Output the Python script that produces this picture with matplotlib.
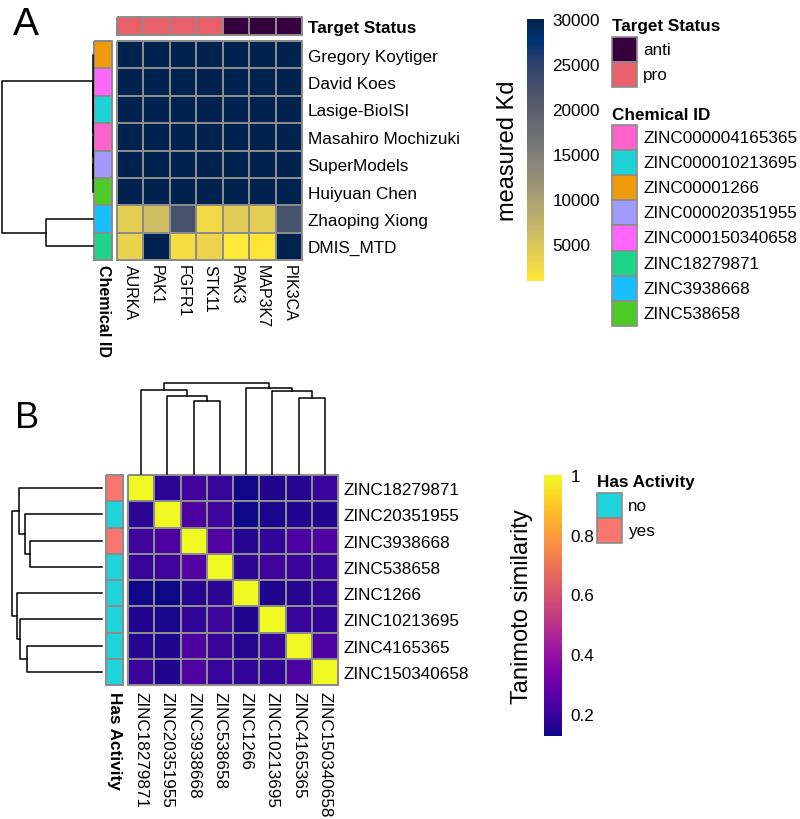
import numpy as np
import matplotlib
matplotlib.use("Agg")
import matplotlib.pyplot as plt
from matplotlib.colors import ListedColormap, Normalize
from matplotlib.patches import Rectangle

plt.rcParams['font.family'] = ['Liberation Sans', 'DejaVu Sans']

# ---------------- Panel A data ----------------
kinases = ["AURKA", "PAK1", "FGFR1", "STK11", "PAK3", "MAP3K7", "PIK3CA"]
target_status = ["pro", "pro", "pro", "pro", "anti", "anti", "anti"]
status_levels = ["anti", "pro"]
status_colors = ["#36003F", "#E8606A"]

teams = ["Gregory Koytiger", "David Koes", "Lasige-BioISI", "Masahiro Mochizuki",
         "SuperModels", "Huiyuan Chen", "Zhaoping Xiong", "DMIS_MTD"]
team_chem = ["ZINC00001266", "ZINC000150340658", "ZINC000010213695", "ZINC000004165365",
             "ZINC000020351955", "ZINC538658", "ZINC3938668", "ZINC18279871"]
chem_ids = ["ZINC000004165365", "ZINC000010213695", "ZINC00001266", "ZINC000020351955",
            "ZINC000150340658", "ZINC18279871", "ZINC3938668", "ZINC538658"]
chem_colors = ["#FF63CB", "#1DD3D8", "#EF9A0B", "#A39AFF",
               "#FF66FF", "#1DD48A", "#17BFFF", "#4CCB26"]

kd = np.array([
    [30000, 30000, 30000, 30000, 30000, 30000, 30000],
    [30000, 30000, 30000, 30000, 30000, 30000, 30000],
    [30000, 30000, 30000, 30000, 30000, 30000, 30000],
    [30000, 30000, 30000, 30000, 30000, 30000, 30000],
    [30000, 30000, 30000, 30000, 30000, 30000, 30000],
    [30000, 30000, 30000, 30000, 30000, 30000, 30000],
    [3800, 6200, 22300, 2700, 4100, 3900, 22300],
    [3200, 30000, 2100, 3100, 900, 1200, 30000],
])
kd_ticks = [5000, 10000, 15000, 20000, 25000, 30000]

# row clustering of panel A: (child, child, height), new nodes numbered from 8
merges_a = [(4, 5, 0.0), (3, 8, 0.0), (2, 9, 0.0), (1, 10, 0.0), (0, 11, 0.0),
            (6, 7, 0.516), (12, 13, 1.0)]

# ---------------- Panel B data ----------------
compounds = ["ZINC18279871", "ZINC20351955", "ZINC3938668", "ZINC538658",
             "ZINC1266", "ZINC10213695", "ZINC4165365", "ZINC150340658"]
has_activity = ["yes", "no", "yes", "no", "no", "no", "no", "no"]
activity_levels = ["no", "yes"]
activity_colors = ["#1ED3DA", "#F8766D"]

tanimoto = np.array([
    [1.00, 0.17, 0.21, 0.19, 0.13, 0.15, 0.16, 0.20],
    [0.17, 1.00, 0.235, 0.21, 0.125, 0.14, 0.15, 0.15],
    [0.21, 0.235, 1.00, 0.25, 0.16, 0.18, 0.235, 0.24],
    [0.19, 0.21, 0.25, 1.00, 0.17, 0.21, 0.20, 0.19],
    [0.13, 0.125, 0.16, 0.17, 1.00, 0.15, 0.16, 0.18],
    [0.15, 0.14, 0.18, 0.21, 0.15, 1.00, 0.19, 0.18],
    [0.16, 0.15, 0.235, 0.20, 0.16, 0.19, 1.00, 0.235],
    [0.20, 0.15, 0.24, 0.19, 0.18, 0.18, 0.235, 1.00],
])
tan_ticks = [0.2, 0.4, 0.6, 0.8, 1.0]
tan_ticklabels = ["0.2", "0.4", "0.6", "0.8", "1"]

merges_b = [(2, 3, 0.80), (1, 8, 0.853), (0, 9, 0.926), (6, 7, 0.834),
            (5, 11, 0.91), (4, 12, 0.95), (10, 13, 1.0)]

# ---------------- layout helpers ----------------
W, H = 800, 820
FS = 12.3
GRID = "#8C8C8C"

fig = plt.figure(figsize=(W / 100, H / 100), dpi=100)


def px_axes(x0, y0, x1, y1):
    return fig.add_axes([x0 / W, 1 - y1 / H, (x1 - x0) / W, (y1 - y0) / H])


def clean(ax):
    for s in ax.spines.values():
        s.set_visible(False)
    ax.tick_params(length=0, labelsize=FS)
    ax.set_xticks([])
    ax.set_yticks([])


def heat(ax, data, cmap, norm):
    mesh = ax.pcolormesh(data, cmap=cmap, norm=norm, edgecolors=GRID, linewidth=1.2)
    mesh.set_clip_on(False)
    ax.set_xlim(0, data.shape[1])
    ax.set_ylim(data.shape[0], 0)
    clean(ax)
    return mesh


def cat_heat(ax, labels, levels, colors, vertical=True):
    idx = np.array([levels.index(l) for l in labels])
    data = idx.reshape(-1, 1) if vertical else idx.reshape(1, -1)
    norm = Normalize(-0.5, len(levels) - 0.5)
    return heat(ax, data, ListedColormap(colors), norm)


def dendro(ax, merges, n, side):
    pos = list(np.arange(n) + 0.5)
    hgt = [0.0] * n
    for a, b, h in merges:
        pa, pb, ha, hb = pos[a], pos[b], hgt[a], hgt[b]
        if side == "left":
            ax.plot([ha, h, h, hb], [pa, pa, pb, pb], color="black", lw=1.1, clip_on=False)
        else:
            ax.plot([pa, pa, pb, pb], [ha, h, h, hb], color="black", lw=1.1, clip_on=False)
        pos.append((pa + pb) / 2)
        hgt.append(h)
    if side == "left":
        ax.set_xlim(1.0, 0)
        ax.set_ylim(n, 0)
    else:
        ax.set_xlim(0, n)
        ax.set_ylim(0, 1.0)
    ax.axis("off")


# ---------------- Panel A ----------------
fig.text(13 / W, 1 - 35 / H, "A", fontsize=28, va="baseline")

ax_top = px_axes(117, 18, 302, 36)
cat_heat(ax_top, target_status, status_levels, status_colors, vertical=False)
ax_top.yaxis.tick_right()
ax_top.set_yticks([0.5])
ax_top.set_yticklabels(["Target Status"], fontweight="bold")
ax_top.tick_params(axis="y", pad=4)

ax_a = px_axes(117, 42, 302, 261)
norm_a = Normalize(kd.min(), kd.max())
mesh_a = heat(ax_a, kd, "cividis_r", norm_a)
ax_a.yaxis.tick_right()
ax_a.set_yticks(np.arange(len(teams)) + 0.5)
ax_a.set_yticklabels(teams)
ax_a.set_xticks(np.arange(len(kinases)) + 0.5)
ax_a.set_xticklabels(kinases, rotation=270, va="top", ha="center", fontsize=11.5)
ax_a.tick_params(axis="y", pad=4)
ax_a.tick_params(axis="x", pad=3)

ax_chem = px_axes(94, 42, 112, 261)
cat_heat(ax_chem, team_chem, chem_ids, chem_colors)
ax_chem.set_xticks([0.5])
ax_chem.set_xticklabels(["Chemical ID"], rotation=270, va="top", ha="center",
                        fontweight="bold", fontsize=11.5)
ax_chem.tick_params(axis="x", pad=3)

ax_da = px_axes(2, 42, 93, 261)
dendro(ax_da, merges_a, len(teams), "left")

cax_a = px_axes(527, 20, 544, 282)
cb_a = fig.colorbar(mesh_a, cax=cax_a, ticks=kd_ticks)
cb_a.outline.set_visible(False)
cax_a.tick_params(length=0, labelsize=FS, pad=6)
cax_a.yaxis.set_label_position("left")
cax_a.set_ylabel("measured Kd", fontsize=17, labelpad=6)

# ---------------- Panel B ----------------
fig.text(15 / W, 1 - 428 / H, "B", fontsize=26, va="baseline")

ax_b = px_axes(128, 476, 338, 686)
norm_b = Normalize(tanimoto.min(), tanimoto.max())
mesh_b = heat(ax_b, tanimoto, "plasma", norm_b)
ax_b.yaxis.tick_right()
ax_b.set_yticks(np.arange(len(compounds)) + 0.5)
ax_b.set_yticklabels(compounds)
ax_b.set_xticks(np.arange(len(compounds)) + 0.5)
ax_b.set_xticklabels(compounds, rotation=270, va="top", ha="center")
ax_b.tick_params(axis="y", pad=4)
ax_b.tick_params(axis="x", pad=4)

ax_act = px_axes(106, 476, 123, 686)
cat_heat(ax_act, has_activity, activity_levels, activity_colors)
ax_act.set_xticks([0.5])
ax_act.set_xticklabels(["Has Activity"], rotation=270, va="top", ha="center",
                       fontweight="bold")
ax_act.tick_params(axis="x", pad=4)

ax_drow = px_axes(12, 476, 102, 686)
dendro(ax_drow, merges_b, len(compounds), "left")
ax_dcol = px_axes(128, 384, 338, 475)
dendro(ax_dcol, merges_b, len(compounds), "top")

cax_b = px_axes(544, 476, 562, 737)
cb_b = fig.colorbar(mesh_b, cax=cax_b, ticks=tan_ticks)
cb_b.ax.set_yticklabels(tan_ticklabels)
cb_b.outline.set_visible(False)
cax_b.tick_params(length=0, labelsize=FS, pad=6)
cax_b.yaxis.set_label_position("left")
cax_b.set_ylabel("Tanimoto similarity", fontsize=17, labelpad=8)

# ---------------- legends ----------------
lg = fig.add_axes([0, 0, 1, 1])
lg.set_xlim(0, W)
lg.set_ylim(H, 0)
lg.axis("off")


def legend_block(x, y, title, labels, colors, step=25):
    lg.text(x, y, title, fontweight="bold", va="center", fontsize=FS)
    top = y + 11
    for i, (lab, c) in enumerate(zip(labels, colors)):
        lg.add_patch(Rectangle((x, top + i * step), 25, step, facecolor=c,
                               edgecolor=GRID, lw=1.2))
        lg.text(x + 31, top + i * step + step / 2, lab, va="center", fontsize=FS)


legend_block(612, 27, "Target Status", status_levels, status_colors)
legend_block(612, 115, "Chemical ID", chem_ids, chem_colors, step=25.1)
legend_block(597, 483, "Has Activity", activity_levels, activity_colors)

fig.savefig("out.png", dpi=100)
